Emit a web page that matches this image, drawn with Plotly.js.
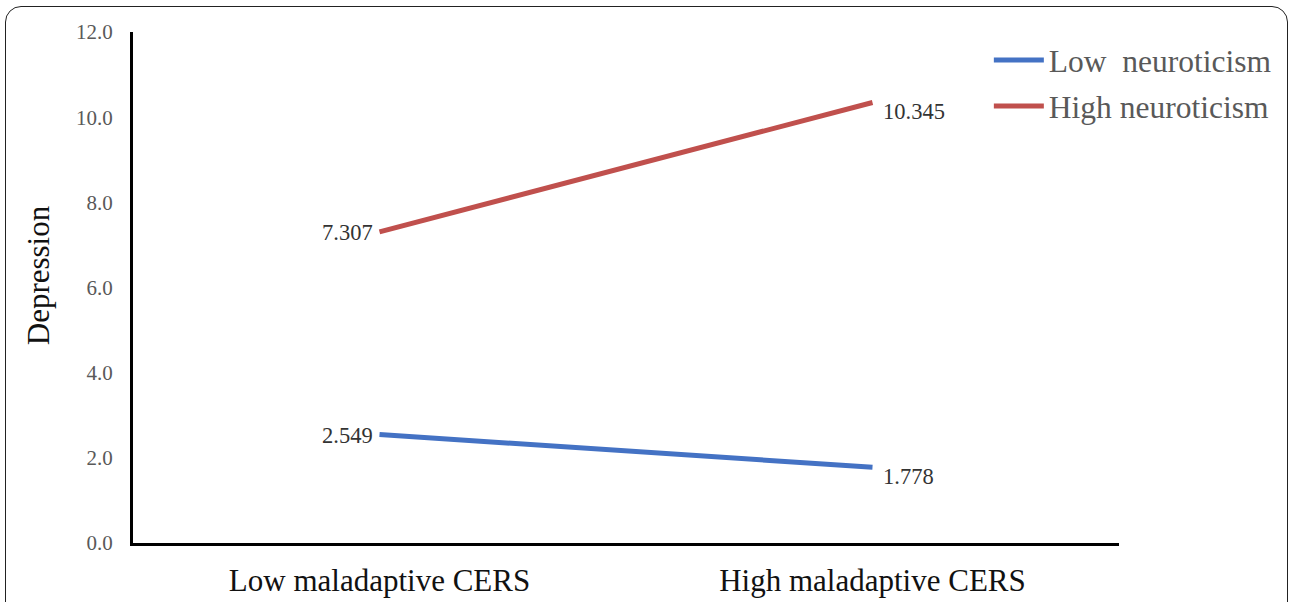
<!DOCTYPE html>
<html>
<head>
<meta charset="utf-8">
<script src="https://cdn.plot.ly/plotly-3.0.1.min.js"></script>
<style>
html,body{margin:0;padding:0;background:#fff;}
#wrap{position:relative;width:1290px;height:602px;overflow:hidden;}
#frame{position:absolute;left:5px;top:6px;width:1283px;height:640px;border:1.5px solid #222;border-radius:16px;box-sizing:border-box;}
#chart{position:absolute;left:0;top:0;width:1290px;height:602px;}
</style>
</head>
<body>
<div id="wrap"><div id="frame"></div><div id="chart"></div></div>
<script>
var categories = ["Low maladaptive CERS", "High maladaptive CERS"];
var lowNeuroticism = [2.549, 1.778];
var highNeuroticism = [7.307, 10.345];
var yTickVals = [0, 2, 4, 6, 8, 10, 12];
var yTickText = ["0.0", "2.0", "4.0", "6.0", "8.0", "10.0", "12.0"];
var seriesNames = ["Low\u00a0\u00a0neuroticism", "High neuroticism"];
var yTitle = "Depression";

var serif = "Liberation Serif, Times New Roman, serif";

var traces = [
  {
    x: categories, y: lowNeuroticism, name: seriesNames[0],
    type: "scatter", mode: "lines", legendgroup: "a",
    line: {color: "#4472C4", width: 5}, cliponaxis: false
  },
  {
    x: categories, y: highNeuroticism, name: seriesNames[1],
    type: "scatter", mode: "lines", legendgroup: "b",
    line: {color: "#C0504D", width: 5}, cliponaxis: false
  }
];

var labelFont = {family: serif, size: 22.5, color: "#333"};
var annotations = [];
function addLabels(vals) {
  // first point: label to the left, second point: label below-right
  annotations.push({x: categories[0], y: vals[0], xref: "x", yref: "y", text: vals[0].toFixed(3),
    showarrow: false, xanchor: "right", yanchor: "middle", xshift: -5, yshift: -1, font: labelFont});
  annotations.push({x: categories[1], y: vals[1], xref: "x", yref: "y", text: vals[1].toFixed(3),
    showarrow: false, xanchor: "left", yanchor: "top", xshift: 8, yshift: 5, font: labelFont});
}
addLabels(lowNeuroticism);
addLabels(highNeuroticism);
annotations.push({x: 0, y: 0.524, xref: "paper", yref: "paper", text: yTitle, textangle: -90,
  showarrow: false, xanchor: "center", yanchor: "middle", xshift: -95,
  font: {family: serif, size: 31, color: "#111"}});

var layout = {
  width: 1290, height: 602,
  margin: {l: 133, r: 171, t: 32, b: 59},
  paper_bgcolor: "rgba(0,0,0,0)",
  plot_bgcolor: "rgba(0,0,0,0)",
  font: {family: serif},
  showlegend: true,
  legend: {
    x: 0.868, y: 0.998, xanchor: "left", yanchor: "top",
    font: {family: serif, size: 31.5, color: "#595959"},
    bgcolor: "rgba(0,0,0,0)", traceorder: "grouped", tracegroupgap: 2, itemwidth: 50
  },
  annotations: annotations,
  xaxis: {
    type: "category", range: [-0.5, 1.5],
    showline: true, linecolor: "#000", linewidth: 3,
    showgrid: false, zeroline: false, ticks: "",
    tickfont: {family: serif, size: 31, color: "#111"},
    ticklabelstandoff: 8
  },
  yaxis: {
    range: [0, 12], tickvals: yTickVals, ticktext: yTickText,
    showline: true, linecolor: "#000", linewidth: 3,
    showgrid: false, zeroline: false, ticks: "",
    tickfont: {family: serif, size: 21, color: "#595959"},
    ticklabelstandoff: 13
  }
};

Plotly.newPlot("chart", traces, layout, {displayModeBar: false, staticPlot: true});
</script>
</body>
</html>
